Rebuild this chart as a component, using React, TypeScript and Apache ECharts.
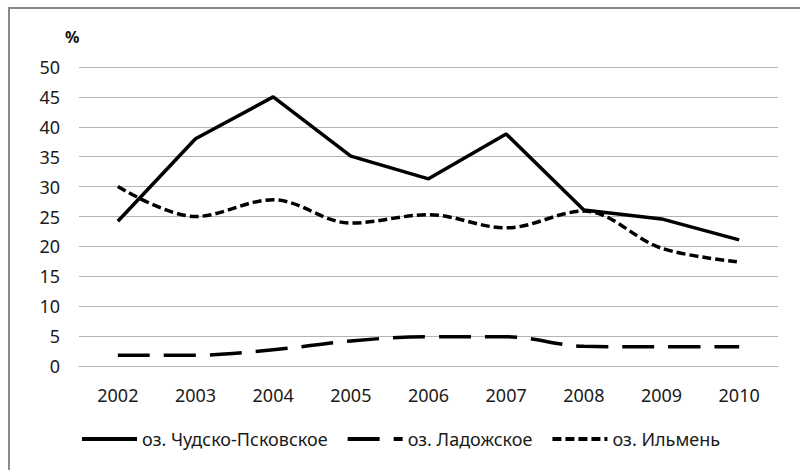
import React, { useEffect, useRef } from "react";
import * as echarts from "echarts";

const years = ["2002", "2003", "2004", "2005", "2006", "2007", "2008", "2009", "2010"];
const chudsko = [24.2, 38.0, 45.0, 35.1, 31.3, 38.8, 26.1, 24.6, 21.1];
const ladoga = [1.8, 1.8, 2.7, 4.2, 4.9, 4.9, 3.3, 3.2, 3.2];
const ilmen = [30.0, 25.0, 27.8, 23.9, 25.3, 23.1, 25.9, 19.7, 17.4];
const seriesNames = ["оз. Чудско-Псковское", "оз. Ладожское", "оз. Ильмень"];

const FONT = "Noto Sans";

export default function App() {
  const ref = useRef<HTMLDivElement>(null);
  useEffect(() => {
    document.body.style.margin = "0";
    const chart = echarts.init(ref.current!, undefined, { renderer: "svg" });
    chart.setOption({
      animation: false,
      backgroundColor: "#ffffff",
      textStyle: { fontFamily: FONT },
      graphic: [
        {
          type: "rect",
          shape: { x: 9, y: 8, width: 820, height: 500 },
          style: { fill: "none", stroke: "#8a8a8a", lineWidth: 2 },
          silent: true,
        },
        {
          type: "text",
          left: 65,
          top: 29,
          style: { text: "%", font: `bold 16px '${FONT}'`, fill: "#111" },
        },
      ],
      grid: { left: 79, right: 22, top: 67, bottom: 104, containLabel: false },
      legend: {
        data: seriesNames,
        bottom: 17,
        left: "center",
        itemWidth: 55,
        itemHeight: 14,
        itemGap: 18,
        itemStyle: { opacity: 0 },
        lineStyle: { width: 4 },
        textStyle: { fontFamily: FONT, fontSize: 18, color: "#1a1a1a" },
      },
      xAxis: {
        type: "category",
        data: years,
        boundaryGap: true,
        axisLine: { show: true, lineStyle: { color: "#b4b4b4", width: 1 } },
        axisTick: { show: false },
        axisLabel: { fontFamily: FONT, fontSize: 18, color: "#1a1a1a", margin: 20 },
      },
      yAxis: {
        type: "value",
        min: 0,
        max: 50,
        interval: 5,
        axisLine: { show: false },
        axisTick: { show: false },
        axisLabel: { fontFamily: FONT, fontSize: 18, color: "#1a1a1a", margin: 19 },
        splitLine: { lineStyle: { color: "#b4b4b4", width: 1 } },
      },
      series: [
        {
          name: seriesNames[0],
          type: "line",
          data: chudsko,
          symbol: "none",
          smooth: false,
          lineStyle: { color: "#000", width: 3.5, type: "solid" },
          itemStyle: { color: "#000" },
        },
        {
          name: seriesNames[1],
          type: "line",
          data: ladoga,
          symbol: "none",
          smooth: 0.35,
          lineStyle: { color: "#000", width: 3.5, type: [32, 14] },
          itemStyle: { color: "#000" },
        },
        {
          name: seriesNames[2],
          type: "line",
          data: ilmen,
          symbol: "none",
          smooth: 0.35,
          lineStyle: { color: "#000", width: 3.5, type: [9, 4] },
          itemStyle: { color: "#000" },
        },
      ],
    });
    return () => chart.dispose();
  }, []);
  return <div ref={ref} style={{ width: 800, height: 470 }} />;
}
